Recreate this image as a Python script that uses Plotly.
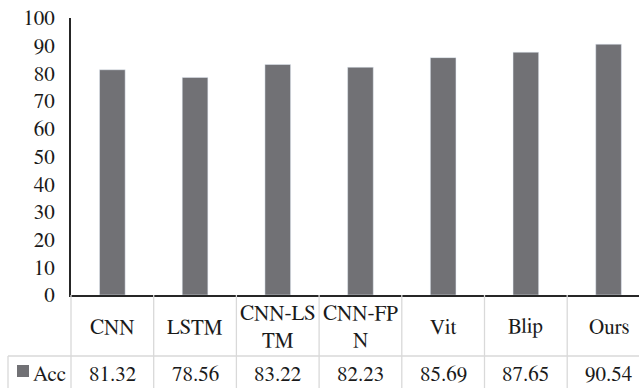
import plotly.graph_objects as go

# Model comparison: accuracy (%)
models = ["CNN", "LSTM", "CNN-LSTM", "CNN-FPN", "Vit", "Blip", "Ours"]
header_labels = ["CNN", "LSTM", "CNN-LS<br>TM", "CNN-FP<br>N", "Vit", "Blip", "Ours"]
acc = [81.32, 78.56, 83.22, 82.23, 85.69, 87.65, 90.54]
y_ticks = [0, 10, 20, 30, 40, 50, 60, 70, 80, 90, 100]

W, H = 639, 388
M_L, M_R, M_T, M_B = 71, 0, 18, 93
CAT_W = 82.7                      # pixel width of one category column
plot_w = W - M_L - M_R
plot_h = H - M_T - M_B
x_hi = -0.5 + plot_w / CAT_W      # last column runs past the right edge

BAR = "#717175"
GRID = "#d9d9d9"
TXT = "#1a1a1a"
FONT = "FreeSerif, Liberation Serif, DejaVu Serif"

def py(pix):
    """pixel row -> paper y"""
    return (H - M_B - pix) / plot_h

def px(pix):
    """pixel column -> paper x"""
    return (pix - M_L) / plot_w

def cx(v):
    """category coordinate -> paper x"""
    return (v + 0.5) / (x_hi + 0.5)

fig = go.Figure(go.Bar(
    x=list(range(len(models))), y=acc, marker_color=BAR,
    width=0.31, hovertext=models, showlegend=False,
))

shapes = []
row_split = py(356)
bottom = py(H + 5)
# vertical table rules at the category boundaries
for i in range(len(models)):
    shapes.append(dict(type="line", xref="paper", yref="paper",
                       x0=cx(i - 0.5), x1=cx(i - 0.5), y0=0, y1=bottom,
                       line=dict(color=GRID, width=1.3)))
# rule between the header row and the value row (incl. legend cell)
shapes.append(dict(type="line", xref="paper", yref="paper",
                   x0=px(8), x1=1.05, y0=row_split, y1=row_split,
                   line=dict(color=GRID, width=1.3)))
shapes.append(dict(type="line", xref="paper", yref="paper",
                   x0=px(8), x1=px(8), y0=row_split, y1=bottom,
                   line=dict(color=GRID, width=1.3)))
# legend key in the value row
shapes.append(dict(type="rect", xref="paper", yref="paper",
                   x0=px(17), x1=px(29), y0=py(377), y1=py(365),
                   fillcolor=BAR, line=dict(width=0)))

text_font = dict(family=FONT, size=21, color=TXT)
annotations = []
for i, (lab, v) in enumerate(zip(header_labels, acc)):
    annotations.append(dict(x=i, xref="x", y=py(327), yref="paper",
                            text=lab, showarrow=False, font=text_font,
                            xanchor="center", yanchor="middle"))
    annotations.append(dict(x=i, xref="x", y=py(374), yref="paper",
                            text=f"{v:.2f}", showarrow=False, font=text_font,
                            xanchor="center", yanchor="middle"))
annotations.append(dict(x=px(31), xref="paper", y=py(374), yref="paper",
                        text="Acc", showarrow=False, font=text_font,
                        xanchor="left", yanchor="middle"))

fig.update_layout(
    width=W, height=H,
    margin=dict(l=M_L, r=M_R, t=M_T, b=M_B, pad=0),
    paper_bgcolor="white", plot_bgcolor="white",
    font=text_font,
    shapes=shapes, annotations=annotations,
    xaxis=dict(range=[-0.5, x_hi], showticklabels=False, ticks="",
               showgrid=False, zeroline=False, showline=True,
               linecolor="#262626", linewidth=2.2),
    yaxis=dict(range=[0, 100], tickvals=y_ticks, ticks="",
               showgrid=False, zeroline=False, showline=True,
               linecolor="#262626", linewidth=2.2,
               ticklabelstandoff=10, tickfont=text_font),
)

fig.write_html("out.html")
